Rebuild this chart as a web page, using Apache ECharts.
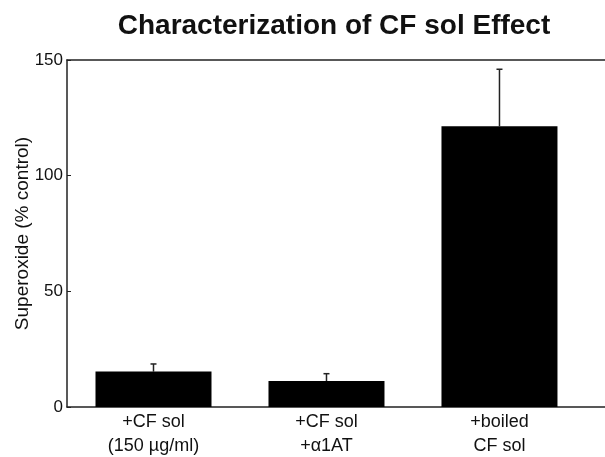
<!DOCTYPE html>
<html><head><meta charset="utf-8">
<script src="https://cdn.jsdelivr.net/npm/echarts@6/dist/echarts.min.js"></script>
<style>html,body{margin:0;padding:0;background:#fff}#c{width:605px;height:457px}</style>
</head><body><div id="c"></div>
<script>
var categories = ['+CF sol\n(150 µg/ml)', '+CF sol\n+α1AT', '+boiled\nCF sol'];
var positions = [0.5, 1.5, 2.5];
var means = [15.3, 11.2, 121.4];
var errors = [3.3, 3.2, 24.6];
var yTicks = [0, 50, 100, 150];

var font = 'Liberation Sans, Arial, Helvetica, sans-serif';
var barData = positions.map(function (p, i) { return [p, means[i]]; });
var errData = positions.map(function (p, i) { return [p, means[i], means[i] + errors[i]]; });

var chart = echarts.init(document.getElementById('c'));
chart.setOption({
  animation: false,
  title: {
    text: 'Characterization of CF sol Effect',
    left: 329, top: 7, textAlign: 'center',
    textStyle: { fontFamily: font, fontWeight: 'bold', fontSize: 28, color: '#111' }
  },
  grid: { left: 67, right: 0, top: 60, bottom: 50, outerBoundsMode: 'none', containLabel: false },
  xAxis: [{
    type: 'value', min: 0, max: 3.11, interval: 0.5,
    splitLine: { show: false }, axisTick: { show: false },
    axisLine: { show: true, lineStyle: { color: '#222', width: 1.5 } },
    axisLabel: {
      show: true, showMaxLabel: false, margin: 3,
      fontFamily: font, fontSize: 18, color: '#111', lineHeight: 24,
      formatter: function (v) {
        var i = positions.indexOf(Math.round(v * 100) / 100);
        return i >= 0 ? categories[i] : '';
      }
    }
  }, {
    type: 'value', min: 0, max: 3.11, position: 'top',
    splitLine: { show: false }, axisTick: { show: false }, axisLabel: { show: false },
    axisLine: { show: true, lineStyle: { color: '#222', width: 1.5 } }
  }],
  yAxis: {
    type: 'value', min: yTicks[0], max: yTicks[yTicks.length - 1], interval: 50,
    name: 'Superoxide (% control)', nameLocation: 'middle', nameGap: 35, nameRotate: 90,
    nameMoveOverlap: false,
    nameTextStyle: { fontFamily: font, fontSize: 19, color: '#111' },
    splitLine: { show: false },
    axisLine: { show: true, lineStyle: { color: '#222', width: 1.5 } },
    axisTick: { show: true, inside: true, length: 4, lineStyle: { color: '#222', width: 1 } },
    axisLabel: { margin: 4, fontFamily: font, fontSize: 17, color: '#111' }
  },
  series: [{
    type: 'bar', xAxisIndex: 0, data: barData, barWidth: 116,
    itemStyle: { color: '#000' }
  }, {
    type: 'custom', xAxisIndex: 0, data: errData, z: 1,
    renderItem: function (params, api) {
      var x = api.value(0);
      var lo = api.coord([x, api.value(1)]);
      var hi = api.coord([x, api.value(2)]);
      var cap = 3;
      return {
        type: 'group', children: [
          { type: 'line', shape: { x1: lo[0], y1: lo[1], x2: hi[0], y2: hi[1] }, style: { stroke: '#222', lineWidth: 1.5 } },
          { type: 'line', shape: { x1: hi[0] - cap, y1: hi[1], x2: hi[0] + cap, y2: hi[1] }, style: { stroke: '#222', lineWidth: 1.5 } }
        ]
      };
    }
  }]
});
</script></body></html>
